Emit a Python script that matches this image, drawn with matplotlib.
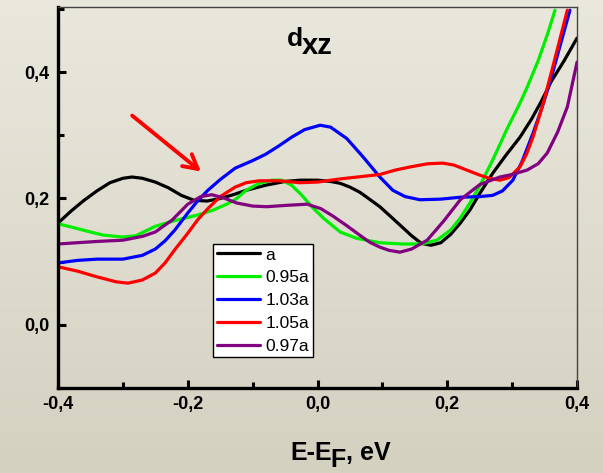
import matplotlib.pyplot as plt
import numpy as np
from matplotlib.ticker import MultipleLocator

plt.rcParams['font.family'] = ['Liberation Sans', 'DejaVu Sans']

# values (E-E_F in eV, DOS)
x_a = [-0.4, -0.38, -0.36, -0.34, -0.32, -0.30, -0.286, -0.27, -0.25, -0.23, -0.21, -0.19,
       -0.17, -0.15, -0.13, -0.11, -0.08, -0.05, -0.027, 0.0, 0.02, 0.035, 0.05, 0.065,
       0.08, 0.096, 0.11, 0.127, 0.145, 0.16, 0.175, 0.19, 0.205, 0.22, 0.235, 0.25,
       0.27, 0.29, 0.312, 0.33, 0.345, 0.36, 0.38, 0.4]
y_a = [0.161, 0.180, 0.197, 0.212, 0.225, 0.232, 0.234, 0.232, 0.226, 0.217, 0.205, 0.197,
       0.196, 0.200, 0.206, 0.213, 0.221, 0.227, 0.229, 0.229, 0.227, 0.224, 0.218, 0.210,
       0.199, 0.187, 0.174, 0.158, 0.141, 0.129, 0.126, 0.130, 0.143, 0.161, 0.182, 0.208,
       0.240, 0.268, 0.297, 0.326, 0.354, 0.385, 0.418, 0.454]

x_095 = [-0.4, -0.38, -0.354, -0.33, -0.30, -0.28, -0.25, -0.22, -0.184, -0.16, -0.14,
         -0.127, -0.11, -0.09, -0.07, -0.055, -0.04, -0.025, -0.007, 0.01, 0.035, 0.06,
         0.096, 0.13, 0.16, 0.184, 0.205, 0.22, 0.235, 0.25, 0.27, 0.292, 0.312, 0.323,
         0.34, 0.355, 0.366]
y_095 = [0.160, 0.155, 0.148, 0.142, 0.139, 0.141, 0.156, 0.165, 0.174, 0.182, 0.191,
         0.198, 0.213, 0.224, 0.229, 0.229, 0.221, 0.206, 0.185, 0.168, 0.147, 0.137,
         0.130, 0.128, 0.128, 0.134, 0.150, 0.169, 0.193, 0.220, 0.261, 0.310, 0.351, 0.376,
         0.418, 0.462, 0.498]

x_103 = [-0.4, -0.37, -0.34, -0.30, -0.27, -0.25, -0.235, -0.22, -0.2, -0.185, -0.169,
         -0.15, -0.127, -0.1, -0.08, -0.06, -0.04, -0.02, 0.004, 0.02, 0.045, 0.07, 0.096,
         0.116, 0.135, 0.158, 0.19, 0.22, 0.25, 0.27, 0.285, 0.301, 0.315, 0.332, 0.345,
         0.358, 0.372, 0.389]
y_103 = [0.098, 0.102, 0.104, 0.104, 0.110, 0.120, 0.133, 0.150, 0.177, 0.196, 0.213,
         0.230, 0.248, 0.260, 0.270, 0.283, 0.297, 0.309, 0.316, 0.313, 0.295, 0.266, 0.234,
         0.213, 0.203, 0.198, 0.199, 0.202, 0.203, 0.205, 0.212, 0.229, 0.258, 0.303, 0.341,
         0.383, 0.435, 0.498]

x_105 = [-0.4, -0.37, -0.34, -0.31, -0.292, -0.27, -0.25, -0.235, -0.22, -0.2, -0.185,
         -0.169, -0.15, -0.127, -0.11, -0.09, -0.06, -0.027, 0.0, 0.035, 0.07, 0.096, 0.12,
         0.143, 0.17, 0.193, 0.21, 0.23, 0.25, 0.265, 0.281, 0.295, 0.312, 0.322, 0.332,
         0.348, 0.365, 0.385]
y_105 = [0.092, 0.085, 0.076, 0.068, 0.066, 0.071, 0.082, 0.098, 0.119, 0.145, 0.166,
         0.184, 0.203, 0.218, 0.225, 0.228, 0.228, 0.225, 0.226, 0.231, 0.235, 0.238, 0.245,
         0.250, 0.255, 0.256, 0.253, 0.245, 0.237, 0.232, 0.229, 0.233, 0.250, 0.270, 0.297,
         0.351, 0.418, 0.498]

x_097 = [-0.4, -0.37, -0.34, -0.30, -0.27, -0.25, -0.224, -0.2, -0.18, -0.163, -0.145,
         -0.125, -0.1, -0.078, -0.05, -0.016, 0.005, 0.024, 0.045, 0.065, 0.08, 0.096, 0.11,
         0.127, 0.145, 0.169, 0.195, 0.22, 0.25, 0.281, 0.30, 0.323, 0.34, 0.354, 0.37,
         0.385, 0.4]
y_097 = [0.128, 0.130, 0.132, 0.134, 0.140, 0.147, 0.166, 0.191, 0.203, 0.206, 0.201,
         0.193, 0.188, 0.187, 0.189, 0.191, 0.184, 0.172, 0.157, 0.142, 0.131, 0.123, 0.118,
         0.115, 0.120, 0.134, 0.165, 0.198, 0.222, 0.234, 0.238, 0.245, 0.255, 0.272, 0.305,
         0.345, 0.416]

fig = plt.figure(figsize=(6.03, 4.73), dpi=100)

# light beige background, a little darker towards the bottom
bg = fig.add_axes([0, 0, 1, 1], zorder=-10)
grad = np.linspace(0, 1, 256)[:, None]
top_c = np.array([234, 232, 221]) / 255
bot_c = np.array([212, 209, 193]) / 255
img = top_c[None, None, :] * (1 - grad[..., None]) + bot_c[None, None, :] * grad[..., None]
bg.imshow(np.repeat(img, 4, axis=1), aspect='auto', extent=[0, 1, 0, 1])
bg.axis('off')
fig.patch.set_facecolor('#e2e0d2')

ax = fig.add_axes([0.0962, 0.1797, 0.8608, 0.8053])
ax.patch.set_alpha(0)

lw = 2.3
kw = dict(lw=lw, solid_joinstyle='round', solid_capstyle='round')
ax.plot(x_a, y_a, color='black', label='a', **kw)
ax.plot(x_095, y_095, color='#00ee00', label='0.95a', **kw)
ax.plot(x_103, y_103, color='#0000ff', label='1.03a', **kw)
ax.plot(x_105, y_105, color='#ff0000', label='1.05a', **kw)
ax.plot(x_097, y_097, color='#800080', label='0.97a', **kw)

ax.set_xlim(-0.4, 0.4)
ax.set_ylim(-0.1, 0.503)

ax.xaxis.set_major_locator(MultipleLocator(0.2))
ax.xaxis.set_minor_locator(MultipleLocator(0.1))
ax.yaxis.set_major_locator(MultipleLocator(0.2))
ax.yaxis.set_minor_locator(MultipleLocator(0.1))
fmt = lambda v, p: ('%.1f' % v).replace('.', ',').replace('-0,0', '0,0')
ax.xaxis.set_major_formatter(fmt)
ax.yaxis.set_major_formatter(fmt)

ax.tick_params(which='both', direction='in', top=False, right=False, width=2.2)
ax.tick_params(which='major', length=6, labelsize=13, pad=6)
ax.tick_params(which='minor', length=4.5)
for lab in ax.get_xticklabels() + ax.get_yticklabels():
    lab.set_fontweight('bold')

for s in ['left', 'bottom']:
    ax.spines[s].set_linewidth(2.4)
for s in ['top', 'right']:
    ax.spines[s].set_linewidth(1.0)
    ax.spines[s].set_color('#444444')

# title d_xz
ax.text(-0.047, 0.441, 'd', fontsize=19, fontweight='bold', ha='left', va='baseline')
ax.text(-0.024, 0.428, 'xz', fontsize=21, fontweight='bold', ha='left', va='baseline')

# red arrow
ax.annotate('', xy=(-0.1765, 0.240), xytext=(-0.289, 0.334),
            arrowprops=dict(arrowstyle='->, head_length=1.0, head_width=0.55',
                            color='red', lw=2.8))

leg = ax.legend(loc='lower left', bbox_to_anchor=(0.299, 0.081), fontsize=12.5,
                frameon=True, fancybox=False, framealpha=1, edgecolor='black',
                handlelength=2.5, handletextpad=0.3, labelspacing=0.44,
                borderpad=0.2, borderaxespad=0)
leg.get_frame().set_linewidth(1.0)

# x label E-E_F, eV with full-size subscript
r = fig.canvas.get_renderer()
t1 = fig.text(290 / 603, 1 - 460 / 473, 'E-E', fontsize=18, fontweight='bold',
              ha='left', va='baseline')
bb = t1.get_window_extent(r)
t2 = fig.text(bb.x1 / 603 - 0.002, 1 - 467 / 473, 'F', fontsize=18, fontweight='bold',
              ha='left', va='baseline')
bb2 = t2.get_window_extent(r)
fig.text(bb2.x1 / 603, 1 - 460 / 473, ', eV', fontsize=18, fontweight='bold',
         ha='left', va='baseline')

fig.savefig('out.png', dpi=100, facecolor=fig.get_facecolor())
